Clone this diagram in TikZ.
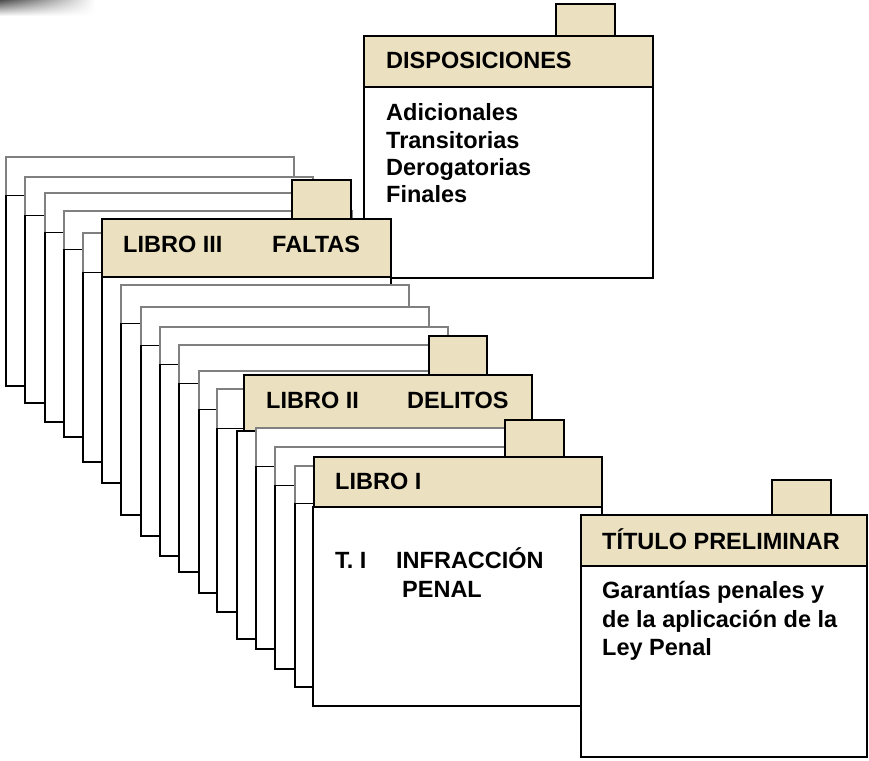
\documentclass[tikz,border=0pt]{standalone}
\usepackage{fontspec}
\setmainfont{Liberation Sans}
\usetikzlibrary{fadings}

\definecolor{beige}{RGB}{235,225,192}

\tikzset{
  backcard/.style={fill=white, draw=black!50, line width=1.2pt},
  hdrline/.style={draw=black, line width=0.9pt},
  sideline/.style={draw=black, line width=2.6pt},
  tabbox/.style={fill=beige, draw=black, line width=2.6pt},
  hdrbox/.style={fill=beige, draw=black, line width=2.6pt},
  bodybox/.style={fill=white, draw=black, line width=2.6pt},
  lbl/.style={font=\fontsize{23.5}{28}\selectfont\bfseries, anchor=base west, inner sep=0pt},
}

\begin{document}
\begin{tikzpicture}[x=1pt, y=-1pt]

    \useasboundingbox (0,0) rectangle (869,760);

    % Corner shadow
    \shade[top color=black!70, bottom color=white, path fading=east] (0,0) rectangle (95,16);

    % Disposiciones
    \draw[bodybox] (364,87) rectangle (653,278);
    \draw[tabbox] (556,4) rectangle (615,36);
    \draw[hdrbox] (364,36) rectangle (653,87);
    \node[lbl] (disp) at (386,68) {DISPOSICIONES};
    \node[lbl] (adic) at (386,120) {Adicionales};
    \node[lbl] (trans) at (386,148) {Transitorias};
    \node[lbl] (derog) at (386,175) {Derogatorias};
    \node[lbl] (final) at (386,202) {Finales};

    % Libro III stack
    \draw[backcard] (6,157) rectangle (294,386);   \draw[hdrline] (6,195) -- (294,195);   \draw[sideline] (6,195) -- (6,386) -- (294,386);
    \draw[backcard] (25,177) rectangle (313,403);  \draw[hdrline] (25,215) -- (313,215);  \draw[sideline] (25,215) -- (25,403) -- (313,403);
    \draw[backcard] (45,193) rectangle (333,422);  \draw[hdrline] (45,232) -- (333,232);  \draw[sideline] (45,232) -- (45,422) -- (333,422);
    \draw[backcard] (64,211) rectangle (352,437);  \draw[hdrline] (64,249) -- (352,249);  \draw[sideline] (64,249) -- (64,437) -- (352,437);
    \draw[backcard] (83,233) rectangle (371,462);  \draw[hdrline] (83,272) -- (371,272);  \draw[sideline] (83,272) -- (83,462) -- (371,462);

    % Libro III
    \draw[tabbox] (292,180) rectangle (351,219);
    \draw[bodybox] (102,277) rectangle (391,483);
    \draw[hdrbox] (102,219) rectangle (391,277);
    \node[lbl] (lib3) at (123,252) {LIBRO III};
    \node[lbl] (faltas) at (272,252) {FALTAS};

    % Libro II stack
    \draw[backcard] (121,285) rectangle (409,515); \draw[hdrline] (121,323) -- (409,323); \draw[sideline] (121,323) -- (121,515) -- (409,515);
    \draw[backcard] (141,307) rectangle (429,536); \draw[hdrline] (141,345) -- (429,345); \draw[sideline] (141,345) -- (141,536) -- (429,536);
    \draw[backcard] (160,327) rectangle (448,556); \draw[hdrline] (160,364) -- (448,364); \draw[sideline] (160,364) -- (160,556) -- (448,556);
    \draw[backcard] (179,345) rectangle (467,572); \draw[hdrline] (179,383) -- (467,383); \draw[sideline] (179,383) -- (179,572) -- (467,572);
    \draw[backcard] (199,371) rectangle (487,593); \draw[hdrline] (199,409) -- (487,409); \draw[sideline] (199,409) -- (199,593) -- (487,593);
    \draw[backcard] (217,389) rectangle (505,612); \draw[hdrline] (217,428) -- (505,428); \draw[sideline] (217,428) -- (217,612) -- (505,612);

    % Libro II
    \draw[tabbox] (429,336) rectangle (487,375);
    \draw[bodybox] (237,431) rectangle (532,639);
    \draw[hdrbox] (244,375) rectangle (532,431);
    \node[lbl] (lib2) at (266,408) {LIBRO II};
    \node[lbl] (delitos) at (407,408) {DELITOS};

    % Libro I stack
    \draw[backcard] (256,428) rectangle (544,649); \draw[hdrline] (256,466) -- (544,466); \draw[sideline] (256,466) -- (256,649) -- (544,649);
    \draw[backcard] (275,447) rectangle (563,669); \draw[hdrline] (275,485) -- (563,485); \draw[sideline] (275,485) -- (275,669) -- (563,669);
    \draw[backcard] (295,466) rectangle (583,687); \draw[hdrline] (295,503) -- (583,503); \draw[sideline] (295,503) -- (295,687) -- (583,687);

    % Libro I
    \draw[tabbox] (505,420) rectangle (564,457);
    \draw[bodybox] (313,507) rectangle (602,706);
    \draw[hdrbox] (314,457) rectangle (602,507);
    \node[lbl] (lib1) at (335,489) {LIBRO I};
    \node[lbl] (ti) at (335,568) {T. I};
    \node[lbl] (infr) at (396,568) {INFRACCIÓN};
    \node[lbl] (penal) at (402,597) {PENAL};

    % Titulo preliminar
    \draw[tabbox] (772,480) rectangle (831,515);
    \draw[bodybox] (581,566) rectangle (867,757);
    \draw[hdrbox] (581,515) rectangle (867,566);
    \node[lbl] (titulo) at (602,549) {TÍTULO PRELIMINAR};
    \node[lbl] (gar1) at (602,598) {Garantías penales y};
    \node[lbl] (gar2) at (602,627) {de la aplicación de la};
    \node[lbl] (gar3) at (602,655) {Ley Penal};

\end{tikzpicture}
\end{document}
